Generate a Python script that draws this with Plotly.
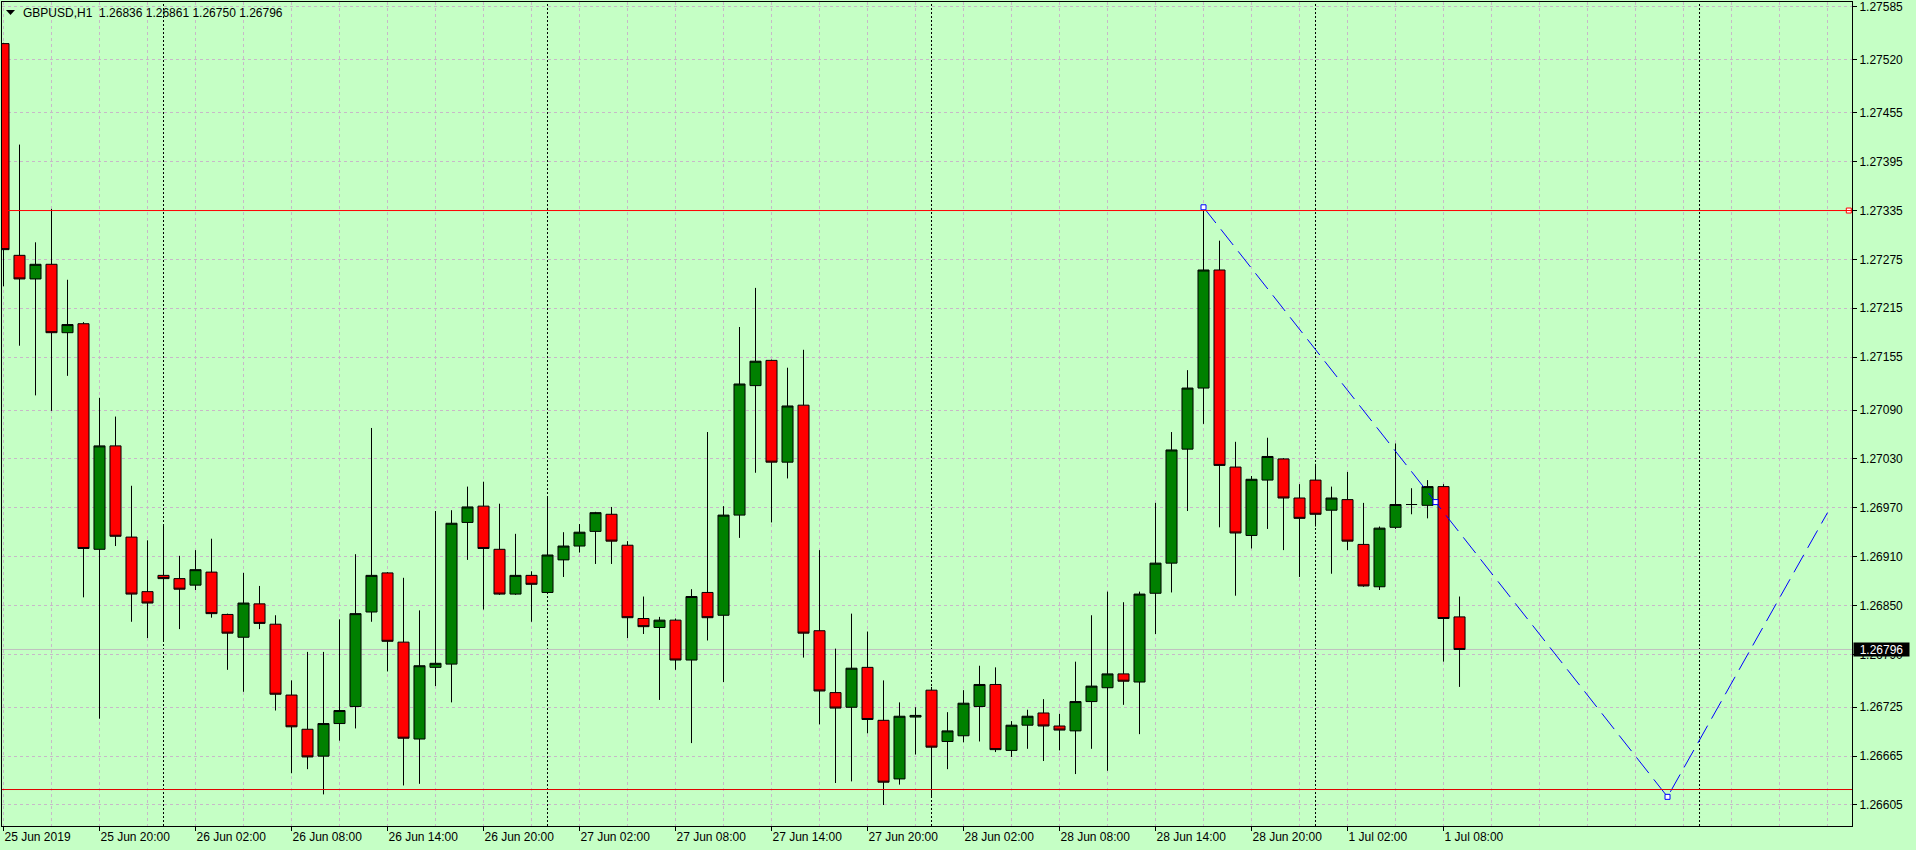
import plotly.graph_objects as go

# ---------------- data ----------------
symbol = "GBPUSD,H1"

opens = [1.27540, 1.27280, 1.27251, 1.27269, 1.27185, 1.27196, 1.26919, 1.27046, 1.26934, 1.26867,
         1.26887, 1.26883, 1.26875, 1.26891, 1.26839, 1.26811, 1.26852, 1.26827, 1.26740, 1.26698,
         1.26665, 1.26705, 1.26726, 1.26842, 1.26890, 1.26805, 1.26686, 1.26774, 1.26778, 1.26952,
         1.26972, 1.26919, 1.26864, 1.26887, 1.26866, 1.26906, 1.26923, 1.26941, 1.26962, 1.26924,
         1.26834, 1.26823, 1.26832, 1.26783, 1.26866, 1.26838, 1.26961, 1.27120, 1.27151, 1.27026,
         1.27096, 1.26819, 1.26743, 1.26725, 1.26774, 1.26709, 1.26637, 1.26713, 1.26746, 1.26683,
         1.26690, 1.26726, 1.26753, 1.26672, 1.26703, 1.26718, 1.26702, 1.26696, 1.26732, 1.26749,
         1.26766, 1.26756, 1.26865, 1.26902, 1.27042, 1.27117, 1.27262, 1.27020, 1.26936, 1.27004,
         1.27030, 1.26982, 1.27004, 1.26967, 1.26980, 1.26925, 1.26873, 1.26946, 1.26974, 1.26973,
         1.26996, 1.26836]
highs = [1.27541, 1.27416, 1.27296, 1.27337, 1.27250, 1.27198, 1.27105, 1.27082, 1.26997, 1.26930,
         1.26950, 1.26911, 1.26918, 1.26932, 1.26840, 1.26890, 1.26874, 1.26838, 1.26758, 1.26793,
         1.26793, 1.26833, 1.26913, 1.27068, 1.26891, 1.26884, 1.26844, 1.26966, 1.26967, 1.26996,
         1.27002, 1.26975, 1.26938, 1.26892, 1.26982, 1.26940, 1.26950, 1.26965, 1.26971, 1.26929,
         1.26861, 1.26836, 1.26834, 1.26870, 1.27063, 1.26972, 1.27192, 1.27240, 1.27152, 1.27142,
         1.27164, 1.26918, 1.26797, 1.26840, 1.26818, 1.26758, 1.26731, 1.26725, 1.26750, 1.26719,
         1.26746, 1.26776, 1.26774, 1.26708, 1.26722, 1.26735, 1.26717, 1.26781, 1.26838, 1.26867,
         1.26854, 1.26867, 1.26976, 1.27063, 1.27139, 1.27339, 1.27298, 1.27051, 1.27009, 1.27056,
         1.27031, 1.26999, 1.27024, 1.26996, 1.27014, 1.26976, 1.26947, 1.27049, 1.26994, 1.27004,
         1.26999, 1.26861]
lows = [1.27242, 1.27169, 1.27108, 1.27089, 1.27132, 1.26860, 1.26711, 1.26923, 1.26830, 1.26810,
        1.26807, 1.26821, 1.26869, 1.26835, 1.26771, 1.26744, 1.26821, 1.26721, 1.26644, 1.26649,
        1.26618, 1.26684, 1.26699, 1.26830, 1.26769, 1.26629, 1.26631, 1.26751, 1.26731, 1.26906,
        1.26845, 1.26863, 1.26863, 1.26830, 1.26864, 1.26885, 1.26915, 1.26901, 1.26901, 1.26810,
        1.26815, 1.26734, 1.26771, 1.26681, 1.26807, 1.26756, 1.26933, 1.27013, 1.26952, 1.27006,
        1.26786, 1.26704, 1.26632, 1.26634, 1.26693, 1.26605, 1.26630, 1.26667, 1.26614, 1.26649,
        1.26682, 1.26683, 1.26670, 1.26664, 1.26674, 1.26659, 1.26672, 1.26643, 1.26674, 1.26647,
        1.26728, 1.26692, 1.26815, 1.26866, 1.26966, 1.27073, 1.26946, 1.26862, 1.26920, 1.26944,
        1.26918, 1.26885, 1.26947, 1.26889, 1.26918, 1.26873, 1.26869, 1.26944, 1.26962, 1.26957,
        1.26781, 1.26750]
closes = [1.27287, 1.27251, 1.27269, 1.27185, 1.27195, 1.26920, 1.27046, 1.26935, 1.26864, 1.26853,
          1.26883, 1.26870, 1.26894, 1.26840, 1.26816, 1.26853, 1.26828, 1.26741, 1.26701, 1.26664,
          1.26705, 1.26721, 1.26840, 1.26887, 1.26806, 1.26687, 1.26776, 1.26779, 1.26951, 1.26971,
          1.26920, 1.26864, 1.26887, 1.26876, 1.26912, 1.26923, 1.26940, 1.26964, 1.26929, 1.26835,
          1.26824, 1.26832, 1.26783, 1.26861, 1.26835, 1.26961, 1.27122, 1.27150, 1.27026, 1.27095,
          1.26816, 1.26745, 1.26724, 1.26773, 1.26710, 1.26633, 1.26714, 1.26715, 1.26676, 1.26696,
          1.26730, 1.26753, 1.26673, 1.26703, 1.26714, 1.26702, 1.26697, 1.26732, 1.26751, 1.26766,
          1.26757, 1.26864, 1.26902, 1.27041, 1.27117, 1.27262, 1.27022, 1.26939, 1.27005, 1.27033,
          1.26982, 1.26957, 1.26962, 1.26982, 1.26929, 1.26874, 1.26945, 1.26974, 1.26974, 1.26996,
          1.26834, 1.26796]

x_labels = ["25 Jun 2019", "25 Jun 20:00", "26 Jun 02:00", "26 Jun 08:00", "26 Jun 14:00",
            "26 Jun 20:00", "27 Jun 02:00", "27 Jun 08:00", "27 Jun 14:00", "27 Jun 20:00",
            "28 Jun 02:00", "28 Jun 08:00", "28 Jun 14:00", "28 Jun 20:00", "1 Jul 02:00",
            "1 Jul 08:00"]
bars_per_label = 6
y_ticks = [1.27585, 1.27520, 1.27455, 1.27395, 1.27335, 1.27275, 1.27215, 1.27155, 1.27090,
           1.27030, 1.26970, 1.26910, 1.26850, 1.26790, 1.26725, 1.26665, 1.26605]

day_start_bars = [10, 34, 58, 82, 106]
levels = [1.27335, 1.26624]
zz_bars = [75, 104, 114]
zz_prices = [1.27339, 1.26615, 1.26964]

# ---------------- styling ----------------
BG = "#C5FFC5"
GRID = "#C8B8C8"
FONT = "'Liberation Sans', Arial, sans-serif"
X_RANGE = [-0.09375, 115.53]
Y_RANGE = [1.265792, 1.275911]

xs = list(range(len(opens)))
current = closes[-1]

fig = go.Figure()

fig.add_trace(go.Candlestick(
    x=xs, open=opens, high=highs, low=lows, close=closes,
    increasing=dict(fillcolor="#008000", line=dict(color="black", width=1)),
    decreasing=dict(fillcolor="#FF0000", line=dict(color="black", width=1)),
    whiskerwidth=0, hoverinfo="skip", showlegend=False,
))

# zigzag / trend line (blue dashed)
fig.add_trace(go.Scatter(
    x=zz_bars, y=zz_prices, mode="lines",
    line=dict(color="#0000FF", width=1, dash="20px,8px"),
    hoverinfo="skip", showlegend=False,
))
# selected trendline anchor points (ends + middle)
mid_bar = (zz_bars[0] + zz_bars[1]) / 2
mid_price = (zz_prices[0] + zz_prices[1]) / 2
fig.add_trace(go.Scatter(
    x=[zz_bars[0], mid_bar, zz_bars[1]], y=[zz_prices[0], mid_price, zz_prices[1]],
    mode="markers",
    marker=dict(symbol="square", size=5, color="white", line=dict(color="#0000FF", width=1)),
    hoverinfo="skip", showlegend=False, cliponaxis=False,
))
# selected horizontal line anchor at the right edge
fig.add_trace(go.Scatter(
    x=[X_RANGE[1] - 0.2], y=[levels[0]], mode="markers",
    marker=dict(symbol="square", size=5, color="white", line=dict(color="#FF0000", width=1)),
    hoverinfo="skip", showlegend=False, cliponaxis=False,
))

shapes = []
for d in day_start_bars:
    shapes.append(dict(type="line", xref="x", yref="paper", x0=d, x1=d, y0=0, y1=1,
                       line=dict(color="black", width=1, dash="2px,2px"), layer="between"))
shapes.append(dict(type="line", xref="paper", yref="y", x0=0, x1=1, y0=current, y1=current,
                   line=dict(color="#C0C0C0", width=1), layer="between"))
level_colors = ["#FF0000", "#E00000"]
for lv, col in zip(levels, level_colors):
    shapes.append(dict(type="line", xref="paper", yref="y", x0=0, x1=1, y0=lv, y1=lv,
                       line=dict(color=col, width=1), layer="above"))
# small menu triangle before the title
shapes.append(dict(type="path", xref="paper", yref="paper", xsizemode="pixel", ysizemode="pixel",
                   xanchor=0, yanchor=1, path="M4,-8 L13,-8 L8.5,-13 Z",
                   fillcolor="black", line=dict(width=0)))

annotations = [
    dict(xref="paper", yref="paper", x=19 / 1850, y=1 - 11 / 824, xanchor="left", yanchor="middle",
         text=f"{symbol}&nbsp; {opens[-1]:.5f} {highs[-1]:.5f} {lows[-1]:.5f} {closes[-1]:.5f}",
         showarrow=False, font=dict(family=FONT, size=12, color="black")),
    dict(xref="paper", yref="y", x=1, y=current, xanchor="left", yanchor="middle", xshift=1,
         text=f"{current:.5f}", showarrow=False, bgcolor="black", width=55, height=13,
         borderpad=0, font=dict(family=FONT, size=12, color="white")),
]

fig.update_layout(
    width=1916, height=850,
    margin=dict(l=2, r=64, t=2, b=24, autoexpand=False),
    paper_bgcolor=BG, plot_bgcolor=BG,
    showlegend=False, boxgap=0.31, boxgroupgap=0,
    font=dict(family=FONT, size=12, color="black"),
    shapes=shapes, annotations=annotations,
    hovermode=False,
)
fig.update_xaxes(
    range=X_RANGE, tickmode="array", automargin=False,
    tickvals=[i * bars_per_label for i in range(len(x_labels))], ticktext=x_labels,
    ticks="outside", ticklen=4, tickcolor="black", ticklabelposition="outside right",
    tickfont=dict(family=FONT, size=12, color="black"),
    showgrid=True, gridcolor=GRID, gridwidth=1, griddash="3px,3px",
    minor=dict(tickmode="linear", tick0=0, dtick=3, showgrid=True, gridcolor=GRID,
               gridwidth=1, griddash="3px,3px", ticks=""),
    showline=True, linecolor="black", linewidth=1, mirror=True,
    zeroline=False, rangeslider=dict(visible=False), fixedrange=True,
)
fig.update_yaxes(
    side="right", range=Y_RANGE, tickmode="array", tickvals=y_ticks, automargin=False,
    ticktext=[f"{v:.5f}" for v in y_ticks],
    ticks="outside", ticklen=4, tickcolor="black",
    tickfont=dict(family=FONT, size=12, color="black"),
    showgrid=True, gridcolor=GRID, gridwidth=1, griddash="3px,3px",
    showline=True, linecolor="black", linewidth=1, mirror=True,
    zeroline=False, fixedrange=True,
)

fig.write_html(
    "out.html",
    config={"displayModeBar": False},
    post_script="document.body.style.margin='0';document.body.style.padding='0';"
                "document.body.style.overflow='hidden';",
)
